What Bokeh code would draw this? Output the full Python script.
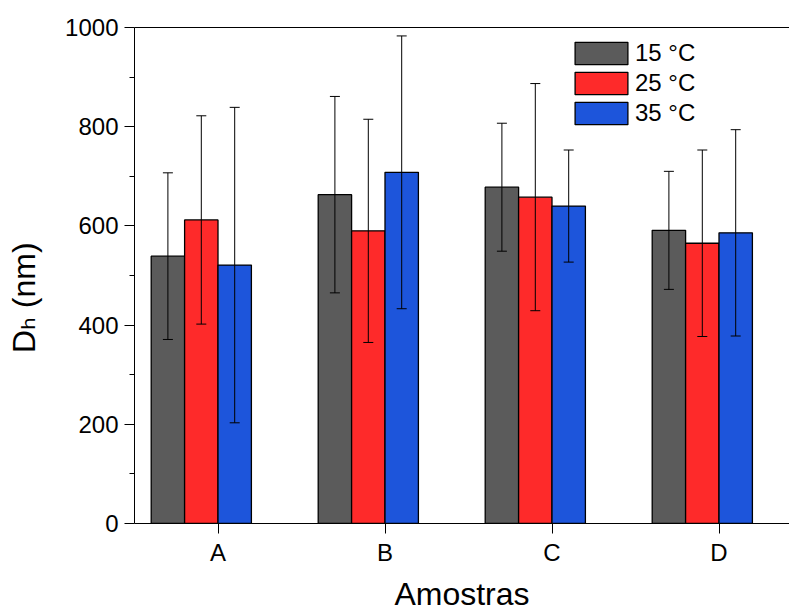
from bokeh.plotting import figure
from bokeh.models import (ColumnDataSource, Range1d, FixedTicker, LinearAxis, Whisker,
                          TeeHead, Legend, LegendItem)
from bokeh.embed import file_html
from bokeh.resources import INLINE

categories = ["A", "B", "C", "D"]
series_names = ["15 °C", "25 °C", "35 °C"]
colors = ["#5B5B5B", "#FE2A2A", "#1D55DB"]
values_15 = [539, 663, 678, 591]
values_25 = [612, 590, 658, 565]
values_35 = [521, 708, 640, 586]
err_15 = [168, 198, 129, 119]
err_25 = [210, 225, 229, 188]
err_35 = [318, 275, 113, 208]
y_ticks = [0, 200, 400, 600, 800, 1000]
y_minor = [100, 300, 500, 700, 900]
x_title = "Amostras"
y_title = "Dₕ (nm)" + "\u00a0" * 5

FONT = "'Liberation Sans', 'DejaVu Sans', sans-serif"
W, H = 789, 615
LEFT, TOP, BOTTOM = 134, 27, 92

p = figure(width=W, height=H, output_backend="svg", toolbar_location=None,
           x_range=Range1d(0.5, 0.5 + (W - LEFT) / 167.0), y_range=Range1d(0, 1000),
           min_border_left=LEFT, min_border_right=0, min_border_top=TOP,
           min_border_bottom=BOTTOM, outline_line_color=None)
p.xgrid.visible = False
p.ygrid.visible = False
p.background_fill_color = "white"
p.border_fill_color = "white"

bar_w = 0.2
offsets = [-0.3, -0.1, 0.1]
series_vals = [values_15, values_25, values_35]
series_errs = [err_15, err_25, err_35]
idx = list(range(1, len(categories) + 1))

legend_items = []
for name, col, vals, errs, off in zip(series_names, colors, series_vals, series_errs, offsets):
    xs = [i + off for i in idx]
    src = ColumnDataSource(dict(x=xs, top=vals,
                                upper=[v + e for v, e in zip(vals, errs)],
                                lower=[v - e for v, e in zip(vals, errs)]))
    r = p.vbar(x="x", top="top", width=bar_w, bottom=0, source=src,
               fill_color=col, line_color="black", line_width=1.3)
    wh = Whisker(base="x", upper="upper", lower="lower", source=src, dimension="height",
                 line_color="black", line_width=1, level="overlay",
                 upper_head=TeeHead(size=10, line_color="black", line_width=1),
                 lower_head=TeeHead(size=10, line_color="black", line_width=1))
    p.add_layout(wh)
    legend_items.append(LegendItem(label=name, renderers=[r]))

# axes
xa = p.xaxis[0]
xa.ticker = FixedTicker(ticks=idx)
xa.major_label_overrides = {i: c for i, c in zip(idx, categories)}
xa.major_tick_out = 10
xa.major_tick_in = 0
xa.minor_tick_line_color = None
xa.major_label_text_font = FONT
xa.major_label_text_font_size = "24px"
xa.major_label_text_color = "black"
xa.major_label_standoff = 5
xa.axis_line_color = "black"
xa.major_tick_line_color = "black"
xa.axis_label = x_title
xa.axis_label_text_font = FONT
xa.axis_label_text_font_size = "32px"
xa.axis_label_text_font_style = "normal"
xa.axis_label_text_color = "black"
xa.axis_label_standoff = 7

ya = p.yaxis[0]
ya.ticker = FixedTicker(ticks=y_ticks, minor_ticks=y_minor)
ya.major_tick_out = 10
ya.major_tick_in = 0
ya.minor_tick_out = 5
ya.minor_tick_in = 0
ya.major_label_text_font = FONT
ya.major_label_text_font_size = "24px"
ya.major_label_text_color = "black"
ya.major_label_standoff = 6
ya.axis_line_color = "black"
ya.major_tick_line_color = "black"
ya.minor_tick_line_color = "black"
ya.axis_label = y_title
ya.axis_label_text_font = FONT
ya.axis_label_text_font_size = "32px"
ya.axis_label_text_font_style = "normal"
ya.axis_label_text_color = "black"
ya.axis_label_standoff = 20

top_axis = LinearAxis(major_tick_line_color=None, minor_tick_line_color=None,
                      major_label_text_font_size="0px", axis_line_color="black")
top_axis.ticker = FixedTicker(ticks=[])
p.add_layout(top_axis, "above")

legend = Legend(items=legend_items, location=(434, 396), orientation="vertical",
                padding=0, margin=0, spacing=2, glyph_width=66, glyph_height=28,
                label_standoff=1, label_text_font=FONT, label_text_font_size="24px",
                label_text_color="black", border_line_color=None,
                background_fill_alpha=0)
p.add_layout(legend, "center")

open("out.html", "w").write(file_html(p, INLINE))
